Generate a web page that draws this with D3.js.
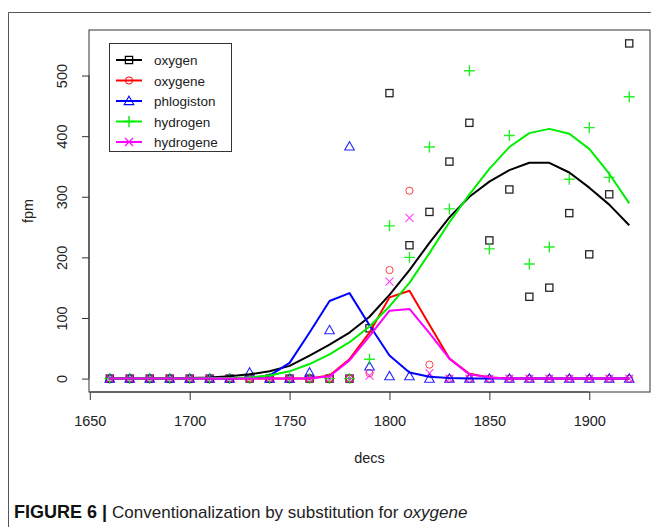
<!DOCTYPE html>
<html>
<head>
<meta charset="utf-8">
<script src="https://cdn.jsdelivr.net/npm/d3@7"></script>
<style>
  body { margin: 0; background: #fff; }
  svg text { font-family: "Liberation Sans", Arial, sans-serif; fill: #222; }
</style>
</head>
<body>
<div id="chart"></div>
<script>
// decades on the x axis
const decs = [1660, 1670, 1680, 1690, 1700, 1710, 1720, 1730, 1740, 1750, 1760, 1770, 1780, 1790,
              1800, 1810, 1820, 1830, 1840, 1850, 1860, 1870, 1880, 1890, 1900, 1910, 1920];

// observed fpm (points)
const oxygen     = [0,0,0,0,0,0,0,0,0,0,0,0,0, 83, 471,220,275,358,422,228,312,135,150,273,205,304,553];
const oxygene    = [0,0,0,0,0,0,0,0,0,0,0,0,0, 9, 179,310,23,0,0,0,0,0,0,0,0,0,0];
const phlogiston = [0,0,0,0,0,0,0,10,0,0,10,80,383, 20, 4,4,0,0,0,0,0,0,0,0,0,0,0];
const hydrogen   = [0,0,0,0,0,0,0,0,0,0,0,0,0, 32, 252,200,382,280,508,214,401,189,217,329,414,332,465];
const hydrogene  = [0,0,0,0,0,0,0,0,0,0,0,0,0, 5, 160,265,9,0,0,0,0,0,0,0,0,0,0];

// smoothed fits (lines)
const oxygenFit     = [0,0,0,0,1,2,4,7,12,21,38,56,76,102,138,179,224,266,300,325,344,356,356,340,315,287,253];
const oxygeneFit    = [0,0,0,0,0,0,0,0,0,0,0,5,32,76,134,145,89,33,8,2,0,0,0,0,0,0,0];
const phlogistonFit = [0,0,0,0,0,0,0,1,5,26,76,128,141,88,38,10,3,1,0,0,0,0,0,0,0,0,0];
const hydrogenFit   = [0,0,0,0,0,0.5,1,2,5,12,24,40,60,86,119,158,207,258,304,346,382,405,412,404,379,338,289];
const hydrogeneFit  = [0,0,0,0,0,0,0,0,0,0,0,4,30,70,112,115,75,33,7,2,0,0,0,0,0,0,0];

const xTicks = [1650, 1700, 1750, 1800, 1850, 1900];
const yTicks = [0, 100, 200, 300, 400, 500];

const series = [
  { name: "oxygen",     pts: oxygen,     fit: oxygenFit,     color: "#000000", pch: "square" },
  { name: "oxygene",    pts: oxygene,    fit: oxygeneFit,    color: "#ff0000", pch: "circle" },
  { name: "phlogiston", pts: phlogiston, fit: phlogistonFit, color: "#0000ff", pch: "triangle" },
  { name: "hydrogen",   pts: hydrogen,   fit: hydrogenFit,   color: "#00ee00", pch: "plus" },
  { name: "hydrogene",  pts: hydrogene,  fit: hydrogeneFit,  color: "#ff00ff", pch: "cross" }
];

const W = 651, H = 527;
const box = { left: 89, right: 650, top: 30, bottom: 392 };

const svg = d3.select("#chart").append("svg")
  .attr("width", W).attr("height", H);

// outer figure frame (left + top edges)
svg.append("path")
  .attr("d", `M8.5,${H} L8.5,12.5 L${W},12.5`)
  .attr("fill", "none").attr("stroke", "#555").attr("stroke-width", 1);

// R style 4% padding on the data range
const xMin = d3.min(decs), xMax = d3.max(decs);
const allY = [].concat(...series.map(s => s.pts));
const yMin = d3.min(allY), yMax = d3.max(allY);
const xPad = (xMax - xMin) * 0.04, yPad = (yMax - yMin) * 0.04;

const x = d3.scaleLinear().domain([xMin - xPad, xMax + xPad]).range([box.left, box.right]);
const y = d3.scaleLinear().domain([yMin - yPad, yMax + yPad]).range([box.bottom, box.top]);

// symbol drawing, like R pch 0..4
function drawSymbol(g, type, cx, cy, color) {
  const s = 3.6;
  if (type === "square") {
    g.append("rect").attr("x", cx - s).attr("y", cy - s).attr("width", 2 * s).attr("height", 2 * s)
      .attr("fill", "none").attr("stroke", color).attr("stroke-width", 1.3);
  } else if (type === "circle") {
    g.append("circle").attr("cx", cx).attr("cy", cy).attr("r", s)
      .attr("fill", "none").attr("stroke", color).attr("stroke-width", 1);
  } else if (type === "triangle") {
    const t = 4.8;
    g.append("path")
      .attr("d", `M${cx},${cy - t} L${cx + t},${cy + t * 0.75} L${cx - t},${cy + t * 0.75} Z`)
      .attr("fill", "none").attr("stroke", color).attr("stroke-width", 1.1);
  } else if (type === "plus") {
    const p = 5.5;
    g.append("path").attr("d", `M${cx - p},${cy} L${cx + p},${cy} M${cx},${cy - p} L${cx},${cy + p}`)
      .attr("stroke", color).attr("stroke-width", 1.4);
  } else if (type === "cross") {
    const c = 4;
    g.append("path").attr("d", `M${cx - c},${cy - c} L${cx + c},${cy + c} M${cx - c},${cy + c} L${cx + c},${cy - c}`)
      .attr("stroke", color).attr("stroke-width", 1.1);
  }
}

const pointsG = svg.append("g");
series.forEach(s => {
  const g = pointsG.append("g").attr("opacity", s.pch === "circle" || s.pch === "cross" ? 0.75 : 0.85);
  s.pts.forEach((v, i) => drawSymbol(g, s.pch, x(decs[i]), y(v), s.color));
});

// fits drawn as straight segments between decades
const line = d3.line().x((d, i) => x(decs[i])).y(d => y(d));
series.forEach(s => {
  svg.append("path").datum(s.fit)
    .attr("d", line)
    .attr("fill", "none").attr("stroke", s.color).attr("stroke-width", 2)
    .attr("stroke-linejoin", "round");
});

// plot box
svg.append("rect")
  .attr("x", box.left).attr("y", box.top)
  .attr("width", box.right - box.left).attr("height", box.bottom - box.top)
  .attr("fill", "none").attr("stroke", "#333").attr("stroke-width", 1);

// x axis
const xAxis = svg.append("g").attr("transform", `translate(0,${box.bottom})`)
  .call(d3.axisBottom(x).tickValues(xTicks).tickFormat(d3.format("d")).tickSize(8).tickPadding(16));
xAxis.select(".domain").attr("d", `M${x(xTicks[0])},0 H${x(xTicks[xTicks.length - 1])}`).attr("stroke", "#333");
xAxis.selectAll(".tick line").attr("stroke", "#333");
xAxis.selectAll("text").style("font-size", "14.5px").style("font-family", "Liberation Sans, Arial, sans-serif").attr("fill", "#222");

// y axis with rotated labels
const yAxis = svg.append("g").attr("transform", `translate(${box.left},0)`)
  .call(d3.axisLeft(y).tickValues(yTicks).tickSize(7));
yAxis.select(".domain").attr("d", `M0,${y(yTicks[0])} V${y(yTicks[yTicks.length - 1])}`).attr("stroke", "#333");
yAxis.selectAll(".tick line").attr("stroke", "#333");
yAxis.selectAll("text")
  .attr("transform", "rotate(-90)")
  .attr("x", 0).attr("y", -22).attr("dy", 0)
  .style("text-anchor", "middle")
  .style("font-size", "14.5px").style("font-family", "Liberation Sans, Arial, sans-serif").attr("fill", "#222");

// axis titles
svg.append("text").attr("x", (box.left + box.right) / 2).attr("y", 463)
  .attr("text-anchor", "middle").style("font-size", "14.5px").text("decs");
svg.append("text")
  .attr("transform", `translate(33,${(box.top + box.bottom) / 2}) rotate(-90)`)
  .attr("text-anchor", "middle").style("font-size", "14.5px").text("fpm");

// legend
const lg = svg.append("g");
lg.append("rect").attr("x", 109.5).attr("y", 43.5).attr("width", 122).attr("height", 108)
  .attr("fill", "#fff").attr("stroke", "#333").attr("stroke-width", 1);
series.forEach((s, i) => {
  const ly = 60 + i * 20.5;
  lg.append("line").attr("x1", 116).attr("x2", 142).attr("y1", ly).attr("y2", ly)
    .attr("stroke", s.color).attr("stroke-width", 2);
  drawSymbol(lg, s.pch, 129, ly, s.color);
  lg.append("text").attr("x", 154).attr("y", ly + 5).style("font-size", "13.5px").text(s.name);
});

// caption
const cap = svg.append("text").attr("x", 14).attr("y", 518).style("font-size", "17px");
cap.append("tspan").style("font-weight", "bold").style("font-size", "18px").attr("fill", "#111").text("FIGURE 6 | ");
cap.append("tspan").attr("fill", "#222").text("Conventionalization by substitution for ");
cap.append("tspan").style("font-style", "italic").attr("fill", "#222").text("oxygene");
</script>
</body>
</html>
